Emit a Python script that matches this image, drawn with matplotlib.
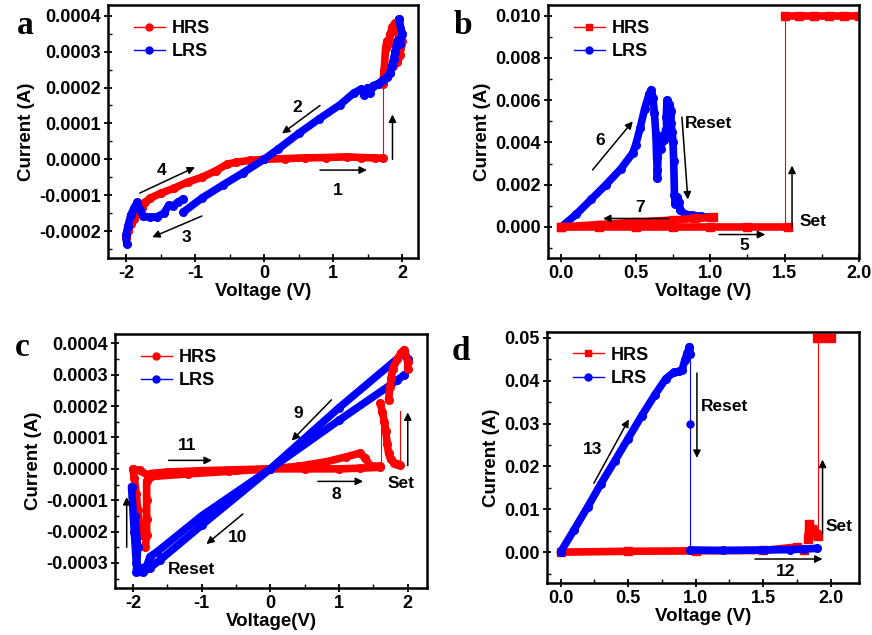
import numpy as np
import matplotlib.pyplot as plt
from matplotlib.lines import Line2D
from matplotlib.ticker import MultipleLocator, FormatStrFormatter

plt.rcParams['font.family'] = ['Liberation Sans', 'DejaVu Sans']
plt.rcParams['font.weight'] = 'bold'
plt.rcParams['axes.unicode_minus'] = False

RED = '#ff0000'
BLUE = '#0000ff'
E4 = 1e-4

# ---------------- panel a (current in 1e-4 A) ----------------
a_hrs1_v = [0.0, 0.3, 0.6, 0.9, 1.2, 1.4, 1.6, 1.72]
a_hrs1_i = [0.0, 0.02, 0.04, 0.05, 0.07, 0.05, 0.04, 0.03]
a_set_v = [1.72, 1.72]
a_set_i = [0.03, 2.1]
a_hrs_top_v = [1.72, 1.74, 1.76, 1.78, 1.80, 1.83, 1.86, 1.90, 1.93, 1.96, 1.98, 2.0, 1.97, 1.93, 1.90, 1.87]
a_hrs_top_i = [2.1, 2.5, 3.1, 3.3, 3.2, 3.5, 3.7, 3.8, 3.6, 3.4, 3.2, 3.3, 2.9, 2.7, 2.8, 2.6]
a_hrs4_v = [-2.0, -1.97, -1.93, -1.88, -1.82, -1.77, -1.72, -1.65, -1.5, -1.3, -1.1, -0.9, -0.7, -0.54, -0.4, -0.2, 0.0]
a_hrs4_i = [-2.2, -2.0, -1.8, -1.65, -1.5, -1.36, -1.2, -1.08, -0.95, -0.8, -0.63, -0.5, -0.32, -0.14, -0.08, -0.03, 0.0]
a_lrs_v = [1.95, 2.0, 1.97, 1.93, 1.90, 1.88, 1.85, 1.82, 1.78, 1.72, 1.65, 1.58, 1.53, 1.50, 1.45, 1.40,
           1.30, 1.10, 0.80, 0.50, 0.20, 0.0, -0.3, -0.6, -0.9, -1.17]
a_lrs_i = [3.9, 3.5, 3.2, 3.3, 3.0, 2.8, 2.6, 2.4, 2.3, 2.2, 2.1, 2.05, 1.85, 2.0, 1.8, 1.95,
           1.85, 1.52, 1.13, 0.72, 0.28, 0.0, -0.37, -0.72, -1.08, -1.47]
a_lrs3_v = [-1.17, -1.25, -1.32, -1.38, -1.45, -1.55, -1.65, -1.75, -1.80, -1.84, -1.88, -1.93, -1.97, -2.0, -1.99]
a_lrs3_i = [-1.1, -1.2, -1.3, -1.28, -1.5, -1.6, -1.62, -1.58, -1.4, -1.2, -1.35, -1.55, -1.85, -2.1, -2.35]

# ---------------- panel b (current in A) ----------------
b_hrs5_v = [0.0, 0.25, 0.5, 0.75, 1.0, 1.25, 1.52]
b_hrs5_i = [0.0, 0.0, 0.0, 0.0, 0.0, 0.0, 0.0]
b_hrs7_v = [1.02, 0.9, 0.75, 0.5, 0.25, 0.0]
b_hrs7_i = [0.00045, 0.0004, 0.00033, 0.00022, 0.00011, 0.0]
b_set_v = [1.5, 1.5]
b_set_i = [0.0, 0.010]
b_cc_v = [1.5, 1.6, 1.7, 1.8, 1.9, 2.0]
b_cc_i = [0.010, 0.010, 0.010, 0.010, 0.010, 0.010]
b_lrs_v = [0.0, 0.1, 0.2, 0.3, 0.4, 0.48, 0.5, 0.53, 0.56, 0.59, 0.605, 0.615, 0.625, 0.635, 0.64, 0.645,
           0.645, 0.65, 0.66, 0.67, 0.68, 0.69, 0.70, 0.71, 0.705, 0.71, 0.72, 0.73, 0.74, 0.735, 0.745,
           0.75, 0.755, 0.76, 0.765, 0.775, 0.79, 0.80, 0.83, 0.88, 0.94, 0.99]
b_lrs_i_ma = [0.0, 0.6, 1.3, 2.0, 2.75, 3.5, 3.9, 4.7, 5.6, 6.3, 6.5, 6.1, 5.4, 4.4, 3.3, 2.7,
              2.3, 3.6, 4.0, 3.7, 4.3, 4.1, 4.6, 4.4, 5.2, 6.0, 5.8, 5.6, 5.5, 4.9, 4.5,
              4.0, 3.1, 1.5, 1.1, 1.4, 1.2, 0.8, 0.6, 0.55, 0.5, 0.45]

# ---------------- panel c (current in 1e-4 A) ----------------
c_hrs8_v = [0.0, 0.5, 1.0, 1.3, 1.6]
c_hrs8_i = [0.0, 0.0, 0.0, 0.02, 0.05]
c_hrs8w_v = [0.0, 0.4, 0.8, 1.1, 1.3, 1.38, 1.45, 1.6]
c_hrs8w_i = [0.0, 0.08, 0.22, 0.38, 0.5, 0.35, 0.1, 0.08]
c_thin1_v = [1.61, 1.61]
c_thin1_i = [0.1, 2.1]
c_thin2_v = [1.88, 1.88]
c_thin2_i = [0.12, 1.85]
c_col_v = [1.60, 1.63, 1.66, 1.68, 1.70, 1.72, 1.75, 1.80, 1.85, 1.88]
c_col_i = [2.1, 1.8, 1.5, 1.2, 0.8, 0.5, 0.3, 0.2, 0.15, 0.12]
c_top_v = [1.72, 1.74, 1.76, 1.78, 1.85, 1.90, 1.95, 2.0, 2.0]
c_top_i = [2.2, 2.6, 2.9, 3.2, 3.5, 3.7, 3.8, 3.4, 3.2]
c_hrsn_v = [0.0, -0.5, -1.0, -1.5, -1.75, -1.80, -1.80, -1.80, -1.80, -1.82]
c_hrsn_i = [0.0, -0.03, -0.06, -0.1, -0.15, -0.4, -1.0, -1.6, -2.1, -2.5]
c_hrsw_v = [0.0, -0.6, -1.2, -1.75, -1.9, -2.0, -1.98, -1.95, -1.93, -1.90, -1.88]
c_hrsw_i = [0.0, -0.08, -0.16, -0.25, -0.05, 0.0, -0.3, -0.8, -1.3, -1.8, -2.1]
c_lrs1_v = [2.0, 1.95, 1.0, 0.0, -1.0, -1.65, -1.75, -1.8, -1.9, -1.95, -1.98, -2.02]
c_lrs1_i = [3.5, 3.7, 1.95, 0.0, -1.5, -2.65, -2.8, -3.1, -3.2, -3.0, -2.0, -0.57]
c_lrs2_v = [1.95, 1.85, 1.0, 0.0, -1.0, -1.6, -1.75, -1.85, -1.95, -1.93, -1.97]
c_lrs2_i = [3.0, 2.83, 1.55, 0.0, -1.8, -2.9, -3.15, -3.3, -3.3, -2.5, -1.5]

# ---------------- panel d (current in A) ----------------
d_lrs_v = [0.0, 0.1, 0.2, 0.3, 0.4, 0.5, 0.6, 0.7, 0.78, 0.84, 0.88, 0.9, 0.92, 0.94, 0.955, 0.96]
d_lrs_i = [0.0, 0.0052, 0.0105, 0.016, 0.0212, 0.0265, 0.0318, 0.0368, 0.0405, 0.042, 0.0422, 0.0425,
           0.0448, 0.0465, 0.048, 0.0462]
d_reset_v = [0.96, 0.96, 0.96]
d_reset_i = [0.0462, 0.030, 0.0005]
d_lrs2_v = [0.96, 1.2, 1.5, 1.7, 1.8, 1.9]
d_lrs2_i = [0.0005, 0.0004, 0.0005, 0.0006, 0.0007, 0.0009]
d_hrs_v = [0.0, 0.5, 1.0, 1.5, 1.75, 1.8]
d_hrs_i = [0.0, 0.0002, 0.0003, 0.0004, 0.0012, 0.0006]
d_hrs2_v = [1.83, 1.84, 1.86, 1.87, 1.89, 1.91]
d_hrs2_i = [0.003, 0.0066, 0.0055, 0.0052, 0.0042, 0.0037]
d_set_v = [1.91, 1.91]
d_set_i = [0.0037, 0.050]
d_cc_v = [1.90, 1.95, 2.0]
d_cc_i = [0.050, 0.050, 0.050]


def band(ax, v, i, color, marker):
    ax.plot(v, i, color=color, lw=5.5, marker=marker, ms=5.5,
            solid_capstyle='round', solid_joinstyle='round')


def thin(ax, v, i, color, marker=None):
    ax.plot(v, i, color=color, lw=0.8, marker=marker, ms=5)


def arrow(ax, start, end):
    ax.annotate('', xy=end, xytext=start,
                arrowprops=dict(arrowstyle='-|>', color='k', lw=1.1,
                                mutation_scale=11, shrinkA=0, shrinkB=0))


def label(ax, x, y, s, ha='center'):
    ax.text(x, y, s, ha=ha, va='center', fontsize=12.5, fontweight='bold')


def style(ax, xlabel, xlim, ylim, xmaj, xmin, ymaj, ymin, xfmt, yfmt):
    ax.set_xlim(*xlim)
    ax.set_ylim(*ylim)
    ax.xaxis.set_major_locator(MultipleLocator(xmaj))
    ax.xaxis.set_minor_locator(MultipleLocator(xmin))
    ax.yaxis.set_major_locator(MultipleLocator(ymaj))
    ax.yaxis.set_minor_locator(MultipleLocator(ymin))
    ax.xaxis.set_major_formatter(FormatStrFormatter(xfmt))
    ax.yaxis.set_major_formatter(FormatStrFormatter(yfmt))
    ax.tick_params(which='major', direction='inout', length=6, width=1.3, labelsize=13, pad=2)
    ax.tick_params(which='minor', direction='in', length=3, width=1.0)
    for s in ax.spines.values():
        s.set_linewidth(1.8)
    ax.set_xlabel(xlabel, fontsize=13.5, fontweight='bold', labelpad=1)
    ax.set_ylabel('Current (A)', fontsize=13.5, fontweight='bold', labelpad=3)


def legend(ax, hrs_marker):
    handles = [Line2D([], [], color=RED, lw=1, marker=hrs_marker, ms=5),
               Line2D([], [], color=BLUE, lw=1, marker='o', ms=5)]
    ax.legend(handles, ['HRS', 'LRS'], loc='upper left', bbox_to_anchor=(0.06, 0.97),
              frameon=False, fontsize=13, handlelength=1.7, handletextpad=0.4,
              labelspacing=0.35, borderaxespad=0)


fig = plt.figure(figsize=(8.72, 6.35), dpi=100)
ax_a = fig.add_axes([0.1239, 0.5937, 0.3555, 0.3984])
ax_b = fig.add_axes([0.6284, 0.5937, 0.3567, 0.3984])
ax_c = fig.add_axes([0.1319, 0.0740, 0.3578, 0.4000])
ax_d = fig.add_axes([0.6273, 0.0819, 0.3578, 0.3953])

# ---- a ----
ax = ax_a
thin(ax, a_set_v, np.array(a_set_i) * E4, RED)
band(ax, a_hrs1_v, np.array(a_hrs1_i) * E4, RED, 'o')
band(ax, a_hrs4_v, np.array(a_hrs4_i) * E4, RED, 'o')
band(ax, a_lrs_v, np.array(a_lrs_i) * E4, BLUE, 'o')
band(ax, a_lrs3_v, np.array(a_lrs3_i) * E4, BLUE, 'o')
band(ax, a_hrs_top_v, np.array(a_hrs_top_i) * E4, RED, 'o')
band(ax, a_lrs_v[:12], np.array(a_lrs_i[:12]) * E4, BLUE, 'o')
arrow(ax, (0.81, 1.5e-4), (0.26, 0.72e-4))
label(ax, 0.48, 1.45e-4, '2')
arrow(ax, (0.81, -0.3e-4), (1.49, -0.3e-4))
label(ax, 1.07, -0.86e-4, '1')
arrow(ax, (1.86, 0.0), (1.86, 1.25e-4))
arrow(ax, (-1.80, -0.94e-4), (-1.0, -0.22e-4))
label(ax, -1.48, -0.3e-4, '4')
arrow(ax, (-0.90, -1.58e-4), (-1.62, -2.17e-4))
label(ax, -1.12, -2.17e-4, '3')
style(ax, 'Voltage (V)', (-2.26, 2.23), (-0.000275, 0.00043), 1, 0.5, 0.0001, 0.00005, '%d', '%.4f')
legend(ax, 'o')

# ---- b ----
ax = ax_b
thin(ax, b_set_v, b_set_i, RED)
band(ax, b_lrs_v, np.array(b_lrs_i_ma) * 1e-3, BLUE, 'o')
band(ax, b_hrs5_v, b_hrs5_i, RED, 's')
band(ax, b_hrs7_v, b_hrs7_i, RED, 's')
band(ax, b_cc_v, b_cc_i, RED, 's')
arrow(ax, (0.21, 0.0027), (0.48, 0.0050))
label(ax, 0.26, 0.0041, '6')
arrow(ax, (0.81, 0.0052), (0.85, 0.0013))
label(ax, 0.83, 0.0049, 'Reset', ha='left')
arrow(ax, (0.72, 0.0004), (0.28, 0.0004))
label(ax, 0.53, 0.0009, '7')
arrow(ax, (1.06, -0.00036), (1.37, -0.00036))
label(ax, 1.23, -0.00087, '5')
arrow(ax, (1.55, 0.0), (1.55, 0.0029))
label(ax, 1.60, 0.00024, 'Set', ha='left')
style(ax, 'Voltage (V)', (-0.09, 2.0), (-0.00147, 0.0105), 0.5, 0.25, 0.002, 0.001, '%.1f', '%.3f')
legend(ax, 's')

# ---- c ----
ax = ax_c
thin(ax, c_thin1_v, np.array(c_thin1_i) * E4, RED)
thin(ax, c_thin2_v, np.array(c_thin2_i) * E4, RED)
band(ax, c_hrs8_v, np.array(c_hrs8_i) * E4, RED, 'o')
band(ax, c_hrs8w_v, np.array(c_hrs8w_i) * E4, RED, 'o')
band(ax, c_col_v, np.array(c_col_i) * E4, RED, 'o')
band(ax, c_hrsn_v, np.array(c_hrsn_i) * E4, RED, 'o')
band(ax, c_hrsw_v, np.array(c_hrsw_i) * E4, RED, 'o')
band(ax, c_lrs1_v, np.array(c_lrs1_i) * E4, BLUE, 'o')
band(ax, c_lrs2_v, np.array(c_lrs2_i) * E4, BLUE, 'o')
band(ax, c_top_v, np.array(c_top_i) * E4, RED, 'o')
arrow(ax, (0.89, 2.2e-4), (0.31, 0.9e-4))
label(ax, 0.40, 1.75e-4, '9')
arrow(ax, (-1.48, 0.27e-4), (-0.85, 0.27e-4))
label(ax, -1.21, 0.73e-4, '11')
arrow(ax, (0.69, -0.4e-4), (1.35, -0.4e-4))
label(ax, 0.96, -0.83e-4, '8')
arrow(ax, (-0.40, -1.44e-4), (-0.93, -2.4e-4))
label(ax, -0.48, -2.2e-4, '10')
arrow(ax, (2.0, 0.1e-4), (2.0, 1.8e-4))
label(ax, 1.90, -0.48e-4, 'Set')
arrow(ax, (-2.09, -2.5e-4), (-2.09, -0.9e-4))
label(ax, -1.14, -3.2e-4, 'Reset')
style(ax, 'Voltage(V)', (-2.26, 2.28), (-0.00038, 0.00043), 1, 0.5, 0.0001, 0.00005, '%d', '%.4f')
legend(ax, 'o')

# ---- d ----
ax = ax_d
thin(ax, d_set_v, d_set_i, RED)
thin(ax, d_reset_v, d_reset_i, BLUE, marker='o')
band(ax, d_hrs_v, d_hrs_i, RED, 's')
band(ax, d_lrs_v, d_lrs_i, BLUE, 'o')
band(ax, d_lrs2_v, d_lrs2_i, BLUE, 'o')
band(ax, d_hrs2_v, d_hrs2_i, RED, 's')
band(ax, d_cc_v, d_cc_i, RED, 's')
arrow(ax, (0.247, 0.0161), (0.506, 0.031))
label(ax, 0.235, 0.0239, '13')
arrow(ax, (1.01, 0.0418), (1.01, 0.022))
label(ax, 1.04, 0.0339, 'Reset', ha='left')
arrow(ax, (1.44, -0.0016), (1.94, -0.0016))
label(ax, 1.67, -0.0045, '12')
arrow(ax, (1.94, 0.0044), (1.94, 0.0216))
label(ax, 1.96, 0.006, 'Set', ha='left')
style(ax, 'Voltage (V)', (-0.10, 2.21), (-0.0072, 0.0514), 0.5, 0.25, 0.01, 0.005, '%.1f', '%.2f')
legend(ax, 's')

# panel letters
for s, x, y in [('a', 25, 25), ('b', 463, 25), ('c', 22, 347), ('d', 461, 352)]:
    fig.text(x / 872, 1 - y / 635, s, family='Liberation Serif', fontweight='bold',
             fontsize=24, ha='center', va='center')

fig.savefig('out.png', dpi=100)
